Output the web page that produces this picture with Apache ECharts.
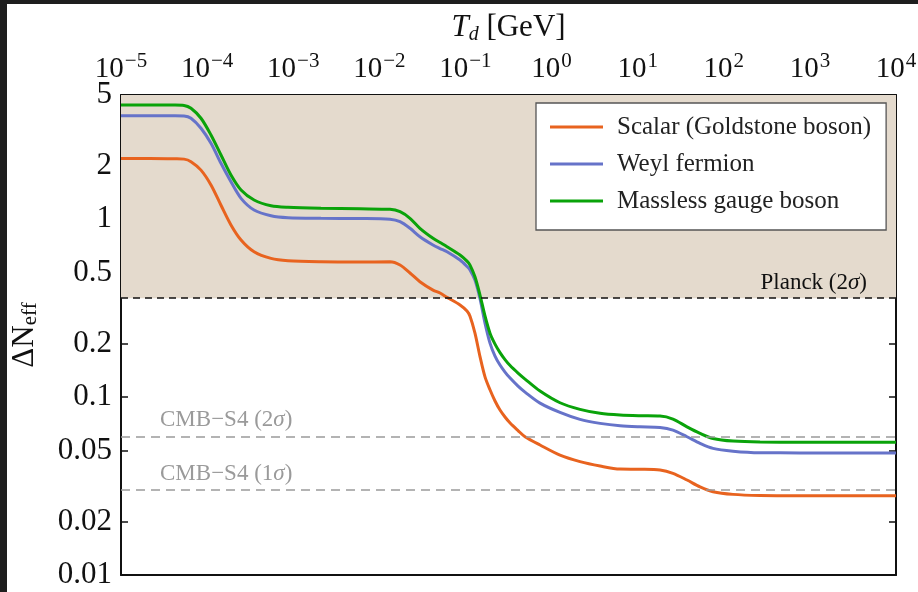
<!DOCTYPE html>
<html><head><meta charset="utf-8">
<script src="https://cdn.jsdelivr.net/npm/echarts@6/dist/echarts.min.js"></script>
<style>
html,body{margin:0;padding:0;background:#1e1e1e;width:918px;height:592px;overflow:hidden}
#chart{position:absolute;left:7px;top:4px;width:911px;height:588px;background:#fff}
</style></head><body><div id="chart"></div>
<script>
// Decoupling temperature T_d [GeV]
const T = [1e-5, 2.17e-5, 4.24e-5, 5.4e-5, 6.5e-5, 8.49e-5, 1.109e-4, 1.449e-4, 1.892e-4, 2.477e-4,
  3.51e-4, 5.52e-4, 8.69e-4, 2.1e-3, 5.96e-3, 0.0133, 0.0174, 0.0227, 0.0296, 0.042,
  0.0507, 0.0611, 0.0865, 0.1042, 0.113, 0.129, 0.1476, 0.1687, 0.1928, 0.2205,
  0.252, 0.288, 0.33, 0.408, 0.492, 0.735, 1.253, 2.14, 3.66, 6.24,
  10.6, 18.2, 25.7, 37.4, 53.0, 75.0, 128, 264, 767, 1e4];
const scalar = [2.20, 2.20, 2.19, 2.18, 2.11, 1.89, 1.56, 1.20, 0.93, 0.765,
  0.657, 0.603, 0.585, 0.577, 0.575, 0.577, 0.553, 0.499, 0.446, 0.400,
  0.385, 0.364, 0.330, 0.305, 0.285, 0.229, 0.169, 0.130, 0.110, 0.0951,
  0.0846, 0.0773, 0.0715, 0.0649, 0.0599, 0.0538, 0.0472, 0.0434, 0.0410, 0.0394,
  0.0393, 0.0389, 0.0373, 0.0342, 0.0313, 0.0294, 0.0284, 0.0280, 0.0279, 0.0279];
const weyl = [3.82, 3.82, 3.82, 3.81, 3.70, 3.25, 2.675, 2.065, 1.627, 1.312,
  1.128, 1.047, 1.021, 1.013, 1.01, 1.0, 0.969, 0.890, 0.798, 0.717,
  0.685, 0.657, 0.590, 0.543, 0.519, 0.455, 0.358, 0.261, 0.2014, 0.1702,
  0.1515, 0.1384, 0.128, 0.1154, 0.1068, 0.0926, 0.0821, 0.0750, 0.0712, 0.0690,
  0.0681, 0.0676, 0.0653, 0.0599, 0.0550, 0.0515, 0.0497, 0.0487, 0.0486, 0.0486];
const gauge = [4.39, 4.39, 4.39, 4.37, 4.21, 3.70, 2.98, 2.30, 1.774, 1.461,
  1.284, 1.192, 1.168, 1.153, 1.145, 1.138, 1.103, 1.013, 0.890, 0.782,
  0.740, 0.701, 0.630, 0.582, 0.553, 0.475, 0.375, 0.286, 0.229, 0.1988,
  0.1781, 0.1627, 0.1505, 0.1366, 0.1264, 0.1082, 0.0930, 0.0854, 0.0811, 0.0793,
  0.0786, 0.0783, 0.0753, 0.0681, 0.0626, 0.0586, 0.0566, 0.0559, 0.0558, 0.0558];
const seriesNames = ['Scalar (Goldstone boson)', 'Weyl fermion', 'Massless gauge boson'];
const seriesColors = ['#e8631f', '#6673c9', '#0aa30a'];
const xTickValues = [1e-5, 1e-4, 1e-3, 1e-2, 1e-1, 1, 10, 100, 1000, 10000];
const yTickValues = [0.01, 0.02, 0.05, 0.1, 0.2, 0.5, 1, 2, 5];
const yTickLabels = ['0.01', '0.02', '0.05', '0.1', '0.2', '0.5', '1', '2', '5'];
const planckLimit = 0.36, cmbS4TwoSigma = 0.06, cmbS4OneSigma = 0.03;
const xMin = 1e-5, xMax = 1e4, yMin = 0.01, yMax = 5;

const FONT = 'Liberation Serif';
const chart = echarts.init(document.getElementById('chart'), null, {renderer: 'canvas'});
const pairs = arr => T.map((t, i) => [t, arr[i]]);
const lineSeries = [scalar, weyl, gauge].map((arr, i) => ({
  name: seriesNames[i], type: 'line', xAxisIndex: 0, yAxisIndex: 0,
  data: pairs(arr), showSymbol: false, symbol: 'none', smooth: 0.3,
  lineStyle: {color: seriesColors[i], width: 3}, itemStyle: {color: seriesColors[i]}, z: 3,
  silent: true
}));
const sup = s => s.replace('-', '\u2212');
const option = {
  animation: false,
  backgroundColor: '#ffffff',
  grid: {left: 114, top: 91, right: 22, bottom: 17, containLabel: false, outerBoundsMode: 'none'},
  legend: {
    data: seriesNames.map(n => ({name: n, icon: 'rect'})), orient: 'vertical', left: 529, top: 99,
    backgroundColor: '#ffffff', borderColor: '#555', borderWidth: 1.3,
    padding: [11, 15, 16, 14], itemWidth: 53, itemHeight: 3, itemGap: 11,
    textStyle: {fontFamily: FONT, fontSize: 25, color: '#222', lineHeight: 26, padding: [0, 0, 0, 9]},
    selectedMode: false
  },
  xAxis: [{
    type: 'log', logBase: 10, min: xMin, max: xMax, position: 'top',
    name: '{t|T}{d|d}{g| [GeV]}', nameLocation: 'middle', nameGap: 50,
    nameTextStyle: {fontFamily: FONT, color: '#111', rich: {
      t: {fontFamily: FONT, fontSize: 31, fontStyle: 'italic', color: '#111'},
      d: {fontFamily: FONT, fontSize: 20, fontStyle: 'italic', color: '#111', padding: [14, 0, 0, 0]},
      g: {fontFamily: FONT, fontSize: 31, color: '#111'}
    }},
    axisLine: {show: true, lineStyle: {color: '#111', width: 2}},
    axisTick: {show: true, inside: true, length: 7, lineStyle: {color: '#111', width: 1.5}, customValues: xTickValues},
    axisLabel: {
      show: true, margin: 8, customValues: xTickValues,
      formatter: v => '{b|10}{s|' + sup(String(Math.round(Math.log10(v)))) + '}',
      rich: {
        b: {fontFamily: FONT, fontSize: 29, color: '#111'},
        s: {fontFamily: FONT, fontSize: 21, color: '#111', padding: [0, 0, 15, 1]}
      }
    },
    minorTick: {show: false}, splitLine: {show: false}
  }, {
    type: 'log', logBase: 10, min: xMin, max: xMax, position: 'bottom',
    axisLine: {show: true, lineStyle: {color: '#111', width: 2}},
    axisTick: {show: false}, axisLabel: {show: false}, splitLine: {show: false}
  }],
  yAxis: [{
    type: 'log', logBase: 10, min: yMin, max: yMax, position: 'left',
    name: '{a|\u0394N}{s|eff}', nameLocation: 'middle', nameGap: 80, nameRotate: 90,
    nameTextStyle: {rich: {
      a: {fontFamily: FONT, fontSize: 31, color: '#111'},
      s: {fontFamily: FONT, fontSize: 21, color: '#111', padding: [12, 0, 0, 0]}
    }},
    axisLine: {show: true, lineStyle: {color: '#111', width: 2}},
    axisTick: {show: true, inside: true, length: 7, lineStyle: {color: '#111', width: 1.5}, customValues: yTickValues},
    axisLabel: {
      show: true, margin: 9, customValues: yTickValues,
      fontFamily: FONT, fontSize: 31, color: '#111',
      formatter: v => { const k = yTickValues.findIndex(t => Math.abs(t - v) < 1e-9); return k >= 0 ? yTickLabels[k] : ''; }
    },
    splitLine: {show: false}, minorTick: {show: false}
  }, {
    type: 'log', logBase: 10, min: yMin, max: yMax, position: 'right',
    axisLine: {show: true, lineStyle: {color: '#111', width: 2}},
    axisTick: {show: true, inside: true, length: 7, lineStyle: {color: '#111', width: 1.5}, customValues: yTickValues},
    axisLabel: {show: false}, splitLine: {show: false}
  }],
  series: [
    {
      name: 'bounds', type: 'line', xAxisIndex: 0, yAxisIndex: 0, data: pairs(gauge),
      showSymbol: false, symbol: 'none', lineStyle: {width: 0, opacity: 0}, z: 1, silent: true,
      markArea: {
        silent: true, itemStyle: {color: '#e4dacd'},
        data: [[{yAxis: planckLimit}, {yAxis: yMax}]]
      },
      markLine: {
        silent: true, symbol: 'none', animation: false,
        data: [
          {yAxis: planckLimit, lineStyle: {color: '#111', width: 1.6, type: [7, 5]},
           label: {show: true, position: 'insideEndTop', distance: [29, 4], formatter: 'Planck (2{i|\u03c3})',
             fontFamily: FONT, fontSize: 23, color: '#111',
             rich: {i: {fontFamily: FONT, fontSize: 23, fontStyle: 'italic', color: '#111'}}}},
          {yAxis: cmbS4TwoSigma, lineStyle: {color: '#9a9a9a', width: 1.6, type: [9, 6]},
           label: {show: true, position: 'insideStartTop', distance: [39, 5], formatter: 'CMB\u2212S4 (2{i|\u03c3})',
             fontFamily: FONT, fontSize: 23, color: '#9a9a9a',
             rich: {i: {fontFamily: FONT, fontSize: 23, fontStyle: 'italic', color: '#9a9a9a'}}}},
          {yAxis: cmbS4OneSigma, lineStyle: {color: '#9a9a9a', width: 1.6, type: [9, 6]},
           label: {show: true, position: 'insideStartTop', distance: [39, 5], formatter: 'CMB\u2212S4 (1{i|\u03c3})',
             fontFamily: FONT, fontSize: 23, color: '#9a9a9a',
             rich: {i: {fontFamily: FONT, fontSize: 23, fontStyle: 'italic', color: '#9a9a9a'}}}}
        ]
      }
    }
  ].concat(lineSeries)
};
chart.setOption(option);
</script></body></html>
